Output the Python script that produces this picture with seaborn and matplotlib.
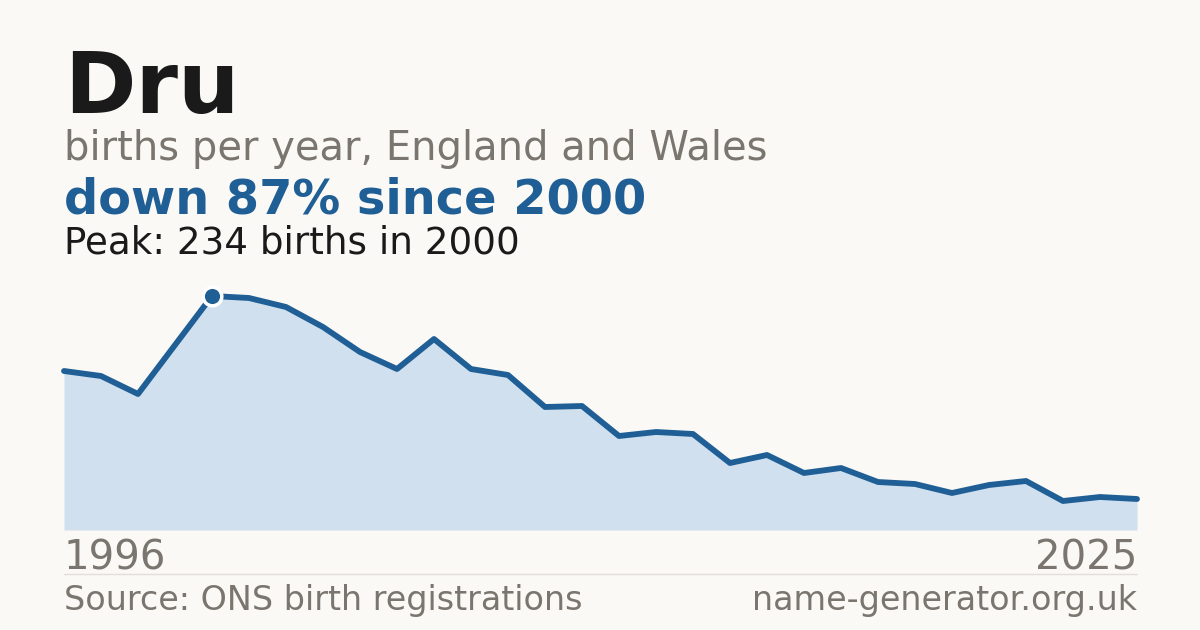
import numpy as np
import pandas as pd
import seaborn as sns
import matplotlib.pyplot as plt

# data
years = list(range(1996, 2026))
births = [159, 154, 136, 185, 234, 232, 223, 203, 178, 161,
          191, 161, 155, 123, 124, 94, 98, 96, 67, 75,
          57, 62, 48, 46, 37, 45, 49, 29, 33, 31]
name = "Dru"
subtitle = "births per year, England and Wales"
headline = "down 87% since 2000"
peak_note = "Peak: 234 births in 2000"
source = "Source: ONS birth registrations"
site = "name-generator.org.uk"

bg = '#faf9f5'
blue = '#1f5f96'
fill = '#d0e0ef'
grey = '#7a756e'
dark = '#1a1a1a'
rule = '#e2dfd8'

sns.set_theme(style='white')
plt.rcParams['font.family'] = ['DejaVu Sans']

df = pd.DataFrame({'year': years, 'births': births})

W, H = 1200, 630
fig = plt.figure(figsize=(12, 6.3), dpi=100, facecolor=bg)

def fx(px):
    return px / W

def fy(py):
    return (H - py) / H

# chart area: x 64..1137, baseline at y=530, 1 px per birth
ax = fig.add_axes([fx(64), fy(530), fx(1137 - 64), 250 / H])
ax.set_facecolor(bg)
ax.fill_between(df['year'], df['births'], 0, color=fill, lw=0)
ax.axhline(0, color=rule, lw=1, zorder=1)
sns.lineplot(data=df, x='year', y='births', ax=ax, color=blue, lw=4.2,
             solid_joinstyle='round', clip_on=False)
pk = df['births'].idxmax()
ax.scatter([df['year'][pk]], [df['births'][pk]], s=180, color=blue,
           edgecolor='white', linewidth=2.5, zorder=5, clip_on=False)
ax.set_xlim(1996, 2025)
ax.set_ylim(0, 250)
ax.set_axis_off()

# text
fig.text(fx(64), fy(113), name, fontsize=62, fontweight='bold', color=dark, va='baseline')
fig.text(fx(64), fy(160), subtitle, fontsize=28.8, color=grey, va='baseline')
fig.text(fx(64), fy(214), headline, fontsize=34.5, fontweight='bold', color=blue, va='baseline')
fig.text(fx(64), fy(253), peak_note, fontsize=26.8, color=dark, va='baseline')

fig.text(fx(64), fy(569), str(years[0]), fontsize=28.9, color=grey, va='baseline')
fig.text(fx(1137), fy(569), str(years[-1]), fontsize=28.9, color=grey, va='baseline', ha='right')

fig.add_artist(plt.Line2D([fx(64), fx(1137)], [fy(574), fy(574)], color=rule, lw=1))

fig.text(fx(64), fy(610), source, fontsize=24, color=grey, va='baseline')
fig.text(fx(1137), fy(610), site, fontsize=24, color=grey, va='baseline', ha='right')

fig.savefig('out.png', dpi=100, facecolor=bg)
